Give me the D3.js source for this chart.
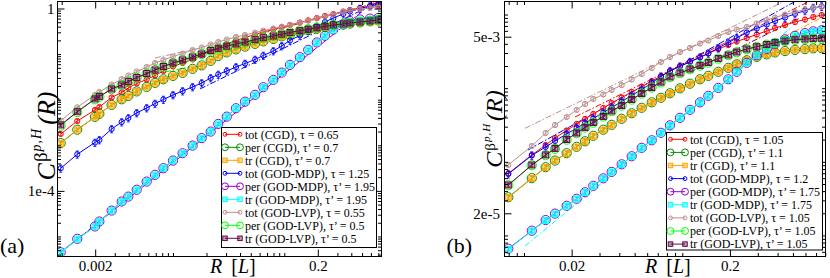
<!DOCTYPE html>
<html>
<head>
<meta charset="utf-8">
<script src="https://cdn.jsdelivr.net/npm/d3@7"></script>
<style>
  body { margin: 0; background: #fff; }
  svg { display: block; }
  text { font-family: "Liberation Serif", "Times New Roman", Times, "DejaVu Serif", serif; }
</style>
</head>
<body>
<svg></svg>
<script>
// series: kind + method, same order in both panels
const kinds = ["tot", "per", "tr", "tot", "per", "tr", "tot", "per", "tr"];
const methods = ["CGD", "CGD", "CGD", "GOD-MDP", "GOD-MDP", "GOD-MDP", "GOD-LVP", "GOD-LVP", "GOD-LVP"];
const tauA = [0.65, 0.7, 0.7, 1.25, 1.95, 1.95, 0.55, 0.5, 0.5];
const tauB = [1.05, 1.1, 1.1, 1.2, 1.75, 1.75, 1.05, 1.05, 1.05];

// tick labels
const xLabelsA = [0.002, 0.2];
const xLabelsB = [0.02, 0.2];
const yLabelsA = [1, 1e-4];
const yLabelTextA = ["1", "1e-4"];
const yLabelsB = [5e-3, 2e-5];
const yLabelTextB = ["5e-3", "2e-5"];

// panel (a) R values
const rA = [0.00098, 0.00138, 0.00199, 0.00218, 0.00281, 0.00346, 0.00397, 0.00472, 0.0058, 0.0069,
  0.0082, 0.0100, 0.0122, 0.0150, 0.0181, 0.0218, 0.0255, 0.0304, 0.0368, 0.0444,
  0.0546, 0.0648, 0.0797, 0.0948, 0.1125, 0.138, 0.164, 0.196, 0.232, 0.276,
  0.339, 0.389, 0.479, 0.589, 0.699];

const totCgdA = [1.77e-3, 3.41e-3, 5.95e-3, 6.92e-3, 1.12e-2, 1.44e-2, 1.81e-2, 2.27e-2, 2.77e-2, 3.4e-2,
  4.26e-2, 5.35e-2, 6.38e-2, 7.61e-2, 9.56e-2, 0.114, 0.136, 0.167, 0.199, 0.231,
  0.269, 0.305, 0.346, 0.389, 0.435, 0.493, 0.551, 0.619, 0.685, 0.758,
  0.86, 0.927, 1.025, 1.106, 1.163];
const perCgdA = [1.12e-3, 2.2e-3, 4.2e-3, 4.9e-3, 7.7e-3, 1.02e-2, 1.21e-2, 1.52e-2, 1.91e-2, 2.34e-2,
  2.8e-2, 3.33e-2, 3.88e-2, 4.75e-2, 5.66e-2, 7.1e-2, 9.1e-2, 0.109, 0.127, 0.146,
  0.168, 0.19, 0.215, 0.245, 0.267, 0.3, 0.333, 0.358, 0.39, 0.418,
  0.445, 0.468, 0.497, 0.523, 0.545];
const trCgdA = [1.1e-3, 2.17e-3, 4.17e-3, 4.86e-3, 7.65e-3, 1.01e-2, 1.2e-2, 1.51e-2, 1.9e-2, 2.32e-2,
  2.77e-2, 3.31e-2, 3.85e-2, 4.71e-2, 5.62e-2, 7.06e-2, 9.08e-2, 0.108, 0.126, 0.145,
  0.167, 0.187, 0.211, 0.241, 0.262, 0.295, 0.326, 0.35, 0.383, 0.409,
  0.435, 0.457, 0.486, 0.511, 0.532];
const totMdpA = [3.13e-4, 6.35e-4, 1.15e-3, 1.31e-3, 2.28e-3, 3.24e-3, 3.97e-3, 5.11e-3, 6.58e-3, 8.25e-3,
  1.01e-2, 1.27e-2, 1.55e-2, 1.9e-2, 2.32e-2, 2.99e-2, 3.57e-2, 4.26e-2, 5.21e-2, 6.22e-2,
  7.61e-2, 9.32e-2, 0.117, 0.151, 0.199, 0.256, 0.329, 0.403, 0.506, 0.619,
  0.758, 0.86, 1.0, 1.134, 1.255];
const perMdpA = [4.5e-6, 8.9e-6, 1.66e-5, 2.13e-5, 3.7e-5, 5.85e-5, 7.5e-5, 1.06e-4, 1.6e-4, 2.25e-4,
  3.15e-4, 4.62e-4, 6.7e-4, 9.85e-4, 1.44e-3, 2.0e-3, 2.95e-3, 4.25e-3, 6.5e-3, 9.05e-3,
  1.28e-2, 1.88e-2, 2.72e-2, 3.93e-2, 5.8e-2, 8.55e-2, 0.124, 0.18, 0.252, 0.345,
  0.45, 0.53, 0.575, 0.6, 0.62];
const trMdpA = [4.41e-6, 8.8e-6, 1.64e-5, 2.11e-5, 3.68e-5, 5.8e-5, 7.46e-5, 1.05e-4, 1.59e-4, 2.23e-4,
  3.13e-4, 4.6e-4, 6.68e-4, 9.8e-4, 1.43e-3, 1.99e-3, 2.93e-3, 4.24e-3, 6.48e-3, 9.03e-3,
  1.27e-2, 1.87e-2, 2.71e-2, 3.91e-2, 5.77e-2, 8.51e-2, 0.123, 0.178, 0.249, 0.338,
  0.435, 0.506, 0.546, 0.574, 0.588];
const totLvpA = [3.46e-3, 6.81e-3, 1.27e-2, 1.48e-2, 2.15e-2, 2.84e-2, 3.4e-2, 4.15e-2, 5.21e-2, 6.38e-2,
  7.42e-2, 8.86e-2, 0.103, 0.123, 0.1395, 0.162, 0.184, 0.209, 0.237, 0.262,
  0.295, 0.326, 0.364, 0.399, 0.435, 0.488, 0.54, 0.604, 0.668, 0.739,
  0.838, 0.904, 0.975, 1.036, 1.079];
const perLvpA = [2.7e-3, 5.35e-3, 1.02e-2, 1.16e-2, 1.7e-2, 2.08e-2, 2.48e-2, 3.04e-2, 3.72e-2, 4.45e-2,
  5.3e-2, 6.33e-2, 7.36e-2, 8.6e-2, 0.1, 0.119, 0.133, 0.148, 0.166, 0.184,
  0.207, 0.229, 0.25, 0.274, 0.299, 0.328, 0.352, 0.38, 0.41, 0.44,
  0.463, 0.488, 0.515, 0.543, 0.57];
const trLvpA = [2.79e-3, 5.46e-3, 1.04e-2, 1.18e-2, 1.72e-2, 2.1e-2, 2.51e-2, 3.07e-2, 3.75e-2, 4.48e-2,
  5.35e-2, 6.38e-2, 7.42e-2, 8.64e-2, 0.1005, 0.12, 0.134, 0.149, 0.1665, 0.184,
  0.207, 0.229, 0.249, 0.273, 0.298, 0.326, 0.35, 0.377, 0.407, 0.435,
  0.457, 0.481, 0.506, 0.532, 0.56];

// panel (b) R values
const rB = [0.00796, 0.0112, 0.0137, 0.0157, 0.0186, 0.0215, 0.0243, 0.0274, 0.0317, 0.0358,
  0.0414, 0.0479, 0.0554, 0.0641, 0.0733, 0.0836, 0.0967, 0.1118, 0.1294, 0.146,
  0.1688, 0.1954, 0.2207, 0.2553, 0.2952, 0.3415, 0.3853, 0.4456, 0.5152, 0.5958,
  0.6723, 0.7596];

const totCgdB = [6.94e-5, 1.24e-4, 1.69e-4, 2.11e-4, 2.66e-4, 3.26e-4, 3.82e-4, 4.46e-4, 5.38e-4, 6.29e-4,
  7.47e-4, 8.88e-4, 1.05e-3, 1.25e-3, 1.46e-3, 1.71e-3, 2.0e-3, 2.3e-3, 2.65e-3, 2.96e-3,
  3.4e-3, 3.86e-3, 4.3e-3, 4.8e-3, 5.36e-3, 5.97e-3, 6.56e-3, 7.21e-3, 7.92e-3, 8.56e-3,
  9.26e-3, 9.85e-3];
const perCgdB = [3.3e-5, 6.0e-5, 8.45e-5, 1.04e-4, 1.31e-4, 1.6e-4, 1.9e-4, 2.26e-4, 2.73e-4, 3.18e-4,
  3.84e-4, 4.56e-4, 5.42e-4, 6.43e-4, 7.4e-4, 8.52e-4, 9.95e-4, 1.15e-3, 1.32e-3, 1.47e-3,
  1.67e-3, 1.89e-3, 2.11e-3, 2.39e-3, 2.66e-3, 2.88e-3, 3.06e-3, 3.19e-3, 3.31e-3, 3.39e-3,
  3.47e-3, 3.49e-3];
const trCgdB = [3.26e-5, 5.94e-5, 8.38e-5, 1.03e-4, 1.3e-4, 1.59e-4, 1.89e-4, 2.24e-4, 2.71e-4, 3.16e-4,
  3.82e-4, 4.53e-4, 5.38e-4, 6.39e-4, 7.36e-4, 8.47e-4, 9.9e-4, 1.14e-3, 1.31e-3, 1.46e-3,
  1.66e-3, 1.88e-3, 2.1e-3, 2.38e-3, 2.65e-3, 2.87e-3, 3.05e-3, 3.18e-3, 3.3e-3, 3.38e-3,
  3.46e-3, 3.48e-3];
const totMdpB = [6.84e-5, 1.22e-4, 1.59e-4, 1.92e-4, 2.39e-4, 2.88e-4, 3.37e-4, 3.88e-4, 4.68e-4, 5.47e-4,
  6.6e-4, 7.96e-4, 9.6e-4, 1.18e-3, 1.44e-3, 1.71e-3, 1.97e-3, 2.27e-3, 2.61e-3, 2.96e-3,
  3.51e-3, 4.17e-3, 4.8e-3, 5.7e-3, 6.46e-3, 7.32e-3, 8.17e-3, 9.12e-3, 1.02e-2, 1.13e-2,
  1.23e-2, 1.29e-2];
const perMdpB = [6.6e-6, 1.16e-5, 1.62e-5, 1.98e-5, 2.53e-5, 3.15e-5, 3.86e-5, 4.72e-5, 5.97e-5, 7.3e-5,
  9.25e-5, 1.19e-4, 1.55e-4, 1.96e-4, 2.48e-4, 3.13e-4, 3.96e-4, 5.08e-4, 6.42e-4, 7.87e-4,
  1.01e-3, 1.32e-3, 1.67e-3, 2.21e-3, 2.8e-3, 3.42e-3, 4.0e-3, 4.6e-3, 5.14e-3, 5.6e-3,
  5.92e-3, 6.12e-3];
const trMdpB = [6.49e-6, 1.15e-5, 1.6e-5, 1.96e-5, 2.51e-5, 3.13e-5, 3.83e-5, 4.7e-5, 5.94e-5, 7.28e-5,
  9.2e-5, 1.18e-4, 1.54e-4, 1.95e-4, 2.46e-4, 3.11e-4, 3.94e-4, 5.06e-4, 6.39e-4, 7.83e-4,
  1.006e-3, 1.31e-3, 1.66e-3, 2.2e-3, 2.78e-3, 3.4e-3, 3.98e-3, 4.58e-3, 5.11e-3, 5.56e-3,
  5.88e-3, 6.07e-3];
const totLvpB = [9.06e-5, 1.64e-4, 2.46e-4, 3.16e-4, 4.06e-4, 5.06e-4, 6.1e-4, 7.13e-4, 8.21e-4, 9.45e-4,
  1.1e-3, 1.31e-3, 1.56e-3, 1.88e-3, 2.27e-3, 2.65e-3, 3.1e-3, 3.51e-3, 4.04e-3, 4.44e-3,
  5.11e-3, 5.79e-3, 6.26e-3, 6.77e-3, 7.55e-3, 8.43e-3, 9.12e-3, 1.0e-2, 1.08e-2, 1.17e-2,
  1.23e-2, 1.27e-2];
const perLvpB = [4.8e-5, 9.0e-5, 1.23e-4, 1.5e-4, 2.0e-4, 2.45e-4, 2.92e-4, 3.4e-4, 4.12e-4, 4.88e-4,
  5.8e-4, 7.0e-4, 8.45e-4, 1.02e-3, 1.2e-3, 1.41e-3, 1.6e-3, 1.81e-3, 2.02e-3, 2.22e-3,
  2.52e-3, 2.8e-3, 3.08e-3, 3.38e-3, 3.64e-3, 3.9e-3, 4.13e-3, 4.35e-3, 4.53e-3, 4.63e-3,
  4.71e-3, 4.74e-3];
const trLvpB = [4.85e-5, 9.06e-5, 1.24e-4, 1.52e-4, 2.01e-4, 2.46e-4, 2.93e-4, 3.42e-4, 4.13e-4, 4.9e-4,
  5.82e-4, 7.02e-4, 8.47e-4, 1.02e-3, 1.21e-3, 1.42e-3, 1.61e-3, 1.82e-3, 2.03e-3, 2.23e-3,
  2.53e-3, 2.82e-3, 3.1e-3, 3.4e-3, 3.66e-3, 3.92e-3, 4.15e-3, 4.37e-3, 4.55e-3, 4.65e-3,
  4.73e-3, 4.76e-3];

// relative error bars per series
const errA = [0.08, 0.07, 0.07, 0.18, 0.07, 0.07, 0.07, 0.07, 0.07];
const errB = [0.07, 0.06, 0.06, 0.12, 0.06, 0.06, 0.06, 0.06, 0.06];

// power-law fit lines (end points [R, C]), dash-dot
const fitTotMdpA = [[0.0175, 0.0172], [0.75, 1.5]];
const fitTotCgdA = [[0.0605, 0.276], [0.75, 1.42]];
const fitPerMdpA = [[0.00098, 4.46e-6], [0.75, 1.9]];
const fitTotLvpA = [[0.00689, 0.0821], [0.0175, 0.136]];
const fitPerLvpA = [[0.00848, 0.0405], [0.0142, 0.0521]];

const fitTotLvpB = [[0.01015, 2.85e-4], [0.4326, 1.48e-2]];
const fitTotCgdB = [[0.021, 4.06e-4], [0.6223, 1.48e-2]];
const fitTotMdpB = [[0.0106, 1.45e-4], [0.538, 1.58e-2]];
const fitTrLvpB = [[0.1119, 1.66e-3], [0.554, 8.97e-3]];
const fitTrCgdB = [[0.0541, 5.06e-4], [0.774, 9.26e-3]];
const fitTrMdpB = [[0.01015, 7.2e-6], [0.4932, 6.77e-3]];

// xmgrace colours
const colors = ["#ff0000", "#008b00", "#ffa500", "#0000ff", "#9400d3", "#00ffff", "#bc8f8f", "#00ff00", "#670748"];

const svg = d3.select("svg").attr("width", 830).attr("height", 278);

function legendText(taus) {
  return kinds.map((k, i) => `${k} (${methods[i]}), ${k === "tot" ? "τ" : "τ’"} = ${taus[i]}`);
}

// symbols: tot = small circle, per = large circle, tr = square
function addSymbols(sel, xy, kind, color, k) {
  if (kind === "tr") {
    const s = 6 * k;
    sel.selectAll(null).data(xy).join("rect")
      .attr("x", d => d[0] - s / 2).attr("y", d => d[1] - s / 2)
      .attr("width", s).attr("height", s)
      .attr("fill", color).attr("fill-opacity", 0.4)
      .attr("stroke", color).attr("stroke-width", 1);
  } else {
    const r = (kind === "per" ? 4.6 : 2.6) * k;
    sel.selectAll(null).data(xy).join("circle")
      .attr("cx", d => d[0]).attr("cy", d => d[1]).attr("r", r)
      .attr("fill", "none").attr("stroke", color).attr("stroke-width", 1);
  }
}

function drawPanel(p) {
  const x = d3.scaleLog().domain(p.xDomain).range([p.left, p.right]);
  const y = d3.scaleLog().domain(p.yDomain).range([p.bottom, p.top]);
  const g = svg.append("g");

  g.append("clipPath").attr("id", "clip-" + p.id)
    .append("rect").attr("x", p.left).attr("y", p.top)
    .attr("width", p.right - p.left).attr("height", p.bottom - p.top);
  const plot = g.append("g").attr("clip-path", `url(#clip-${p.id})`);

  const line = d3.line().x(d => x(d[0])).y(d => y(d[1]));

  // fits under the data
  plot.selectAll("path.fit").data(p.fits).join("path")
    .attr("class", "fit")
    .attr("d", f => line(f.pts))
    .attr("fill", "none")
    .attr("stroke", f => colors[f.s])
    .attr("stroke-width", 1)
    .attr("stroke-dasharray", "6,2,1.5,2");

  p.series.forEach((vals, i) => {
    const pts = p.R.map((r, j) => [r, vals[j], p.err[i]]);
    const c = colors[i];
    const sg = plot.append("g");
    sg.append("path").datum(pts).attr("d", line)
      .attr("fill", "none").attr("stroke", c).attr("stroke-width", 1);
    sg.selectAll("path.eb").data(pts).join("path")
      .attr("class", "eb")
      .attr("d", d => {
        const xx = x(d[0]), y1 = y(d[1] * (1 + d[2])), y0 = y(d[1] * (1 - d[2]));
        return `M${xx - 1.5},${y1}H${xx + 1.5}M${xx},${y1}V${y0}M${xx - 1.5},${y0}H${xx + 1.5}`;
      })
      .attr("fill", "none").attr("stroke", c).attr("stroke-width", 0.8);
    addSymbols(sg, pts.map(d => [x(d[0]), y(d[1])]), kinds[i], c, 1);
  });

  // ticks on all four sides, pointing inwards
  function ticks(gen, scale, values, size, transform, fmt, pad) {
    const a = g.append("g").attr("transform", transform)
      .call(gen(scale).tickValues(values).tickSize(-size).tickSizeOuter(0)
        .tickPadding(pad || 3).tickFormat(fmt || (() => "")));
    a.attr("font-family", null);
    a.select(".domain").remove();
    a.selectAll("line").attr("stroke", "#000");
    a.selectAll("text").attr("font-size", 15).attr("fill", "#000");
    return a;
  }
  const minorX = x.ticks().filter(v => !p.xLabels.some(l => Math.abs(l - v) / l < 1e-6));
  const minorY = y.ticks().filter(v => !p.yLabels.some(l => Math.abs(l - v) / l < 1e-6));

  ticks(d3.axisBottom, x, minorX, 3.5, `translate(0,${p.bottom})`);
  ticks(d3.axisTop, x, minorX, 3.5, `translate(0,${p.top})`);
  ticks(d3.axisLeft, y, minorY, 3.5, `translate(${p.left},0)`);
  ticks(d3.axisRight, y, minorY, 3.5, `translate(${p.right},0)`);
  ticks(d3.axisBottom, x, p.xLabels, 7, `translate(0,${p.bottom})`, d3.format(""), 4);
  ticks(d3.axisTop, x, p.xLabels, 7, `translate(0,${p.top})`);
  ticks(d3.axisLeft, y, p.yLabels, 7, `translate(${p.left},0)`, (d, i) => p.yLabelText[i], p.yPad)
    .selectAll("text").attr("dy", "0.33em");
  ticks(d3.axisRight, y, p.yLabels, 7, `translate(${p.right},0)`);

  g.append("rect")
    .attr("x", p.left).attr("y", p.top)
    .attr("width", p.right - p.left).attr("height", p.bottom - p.top)
    .attr("fill", "none").attr("stroke", "#000").attr("stroke-width", 1);

  // legend
  const L = p.legend;
  const lg = g.append("g");
  lg.append("rect").attr("x", L.x).attr("y", L.y).attr("width", L.w).attr("height", L.h)
    .attr("fill", "#fff").attr("stroke", "#000").attr("stroke-width", 1);
  p.labels.forEach((txt, i) => {
    const cy = L.row0 + i * L.dy;
    lg.append("line").attr("x1", L.s0).attr("x2", L.s1).attr("y1", cy).attr("y2", cy)
      .attr("stroke", colors[i]).attr("stroke-width", 1);
    addSymbols(lg.append("g"), [[L.s0, cy], [L.s1, cy]], kinds[i], colors[i], 0.75);
    lg.append("text").attr("x", L.tx).attr("y", cy).attr("dy", "0.35em")
      .attr("font-size", 12).attr("fill", "#000").text(txt);
  });

  // axis titles
  const xt = svg.append("text").attr("x", p.xTitleX).attr("y", 273)
    .attr("font-size", 20).attr("fill", "#000");
  xt.append("tspan").attr("font-style", "italic").text("R");
  xt.append("tspan").attr("dx", 9).text("[");
  xt.append("tspan").attr("font-style", "italic").text("L");
  xt.append("tspan").text("]");

  const T = p.yTitle;
  const yt = svg.append("text")
    .attr("transform", `translate(${T.x},${T.y}) rotate(-90)`)
    .attr("text-anchor", "middle")
    .attr("font-size", T.size).attr("fill", "#000");
  yt.append("tspan").attr("font-style", "italic").text("C");
  yt.append("tspan").attr("font-size", T.sup).attr("dx", 1).attr("dy", -T.rise1).text("β");
  yt.append("tspan").attr("font-size", T.sup2).attr("dx", 1).attr("dy", -T.rise2)
    .attr("font-style", "italic").attr("letter-spacing", 1).text("p,H");
  yt.append("tspan").attr("dx", T.gap).attr("dy", T.rise1 + T.rise2)
    .attr("font-style", "italic").text("(R)");

  svg.append("text").attr("x", p.tagX).attr("y", 252.5)
    .attr("font-size", 22).attr("fill", "#000").text(p.tag);
}

drawPanel({
  id: "a", tag: "(a)", tagX: 0,
  left: 57.5, right: 381.5, top: 1.5, bottom: 256.5,
  xDomain: [0.000917, 0.747], yDomain: [3.64e-6, 1.424],
  R: rA,
  series: [totCgdA, perCgdA, trCgdA, totMdpA, perMdpA, trMdpA, totLvpA, perLvpA, trLvpA],
  err: errA,
  fits: [
    { s: 3, pts: fitTotMdpA }, { s: 0, pts: fitTotCgdA }, { s: 4, pts: fitPerMdpA },
    { s: 6, pts: fitTotLvpA }, { s: 7, pts: fitPerLvpA }
  ],
  xLabels: xLabelsA, yLabels: yLabelsA, yLabelText: yLabelTextA, yPad: 3,
  labels: legendText(tauA),
  legend: { x: 221.5, y: 127.5, w: 155, h: 120, row0: 134.3, dy: 13, s0: 225, s1: 240, tx: 245 },
  xTitleX: 210,
  yTitle: { x: 55, y: 136, size: 26, sup: 19, sup2: 14, rise1: 8, rise2: 6, gap: 3 }
});

drawPanel({
  id: "b", tag: "(b)", tagX: 446.5,
  left: 504.5, right: 825.5, top: 1.5, bottom: 256.5,
  xDomain: [0.00753, 0.803], yDomain: [5.18e-6, 0.01503],
  R: rB,
  series: [totCgdB, perCgdB, trCgdB, totMdpB, perMdpB, trMdpB, totLvpB, perLvpB, trLvpB],
  err: errB,
  fits: [
    { s: 6, pts: fitTotLvpB }, { s: 0, pts: fitTotCgdB }, { s: 3, pts: fitTotMdpB },
    { s: 8, pts: fitTrLvpB }, { s: 2, pts: fitTrCgdB }, { s: 5, pts: fitTrMdpB }
  ],
  xLabels: xLabelsB, yLabels: yLabelsB, yLabelText: yLabelTextB, yPad: 4.5,
  labels: legendText(tauB),
  legend: { x: 666.5, y: 132.5, w: 156, h: 117.5, row0: 139.3, dy: 13.1, s0: 670.5, s1: 685, tx: 690 },
  xTitleX: 645,
  yTitle: { x: 502, y: 129, size: 24, sup: 15, sup2: 11, rise1: 7, rise2: 5, gap: 2 }
});
</script>
</body>
</html>
